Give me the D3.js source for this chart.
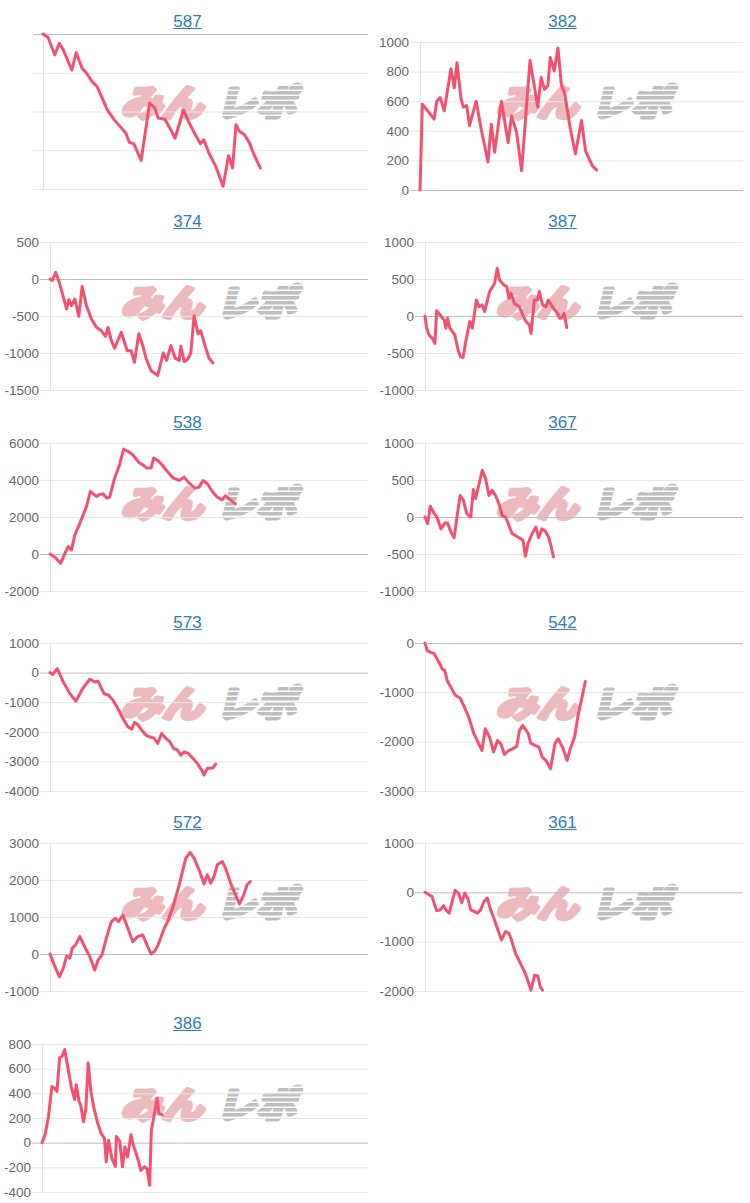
<!DOCTYPE html>
<html><head><meta charset="utf-8">
<script src="https://cdn.jsdelivr.net/npm/d3@7"></script>
<style>body{margin:0;background:#fff;} svg{display:block}</style>
</head><body><svg id="c" width="750" height="1203"></svg>
<script>
// ---- data: machine numbers, game counts, coin difference ----
const titles = ["587","382","374","387","538","367","573","542","572","361","386"];

const g587 = [0,150,350,480,600,850,980,1150,1280,1450,1600,1900,2100,2300,2450,2550,2680,2900,3150,3300,3400,3600,3750,3900,4150,4300,4500,4650,4750,4900,5100,5320,5480,5600,5700,5800,5950,6100,6220,6420];
const v587 = [0,-90,-540,-240,-410,-930,-480,-880,-1000,-1230,-1360,-1960,-2210,-2410,-2560,-2800,-2830,-3260,-1780,-1910,-2170,-2200,-2430,-2690,-1960,-2260,-2600,-2830,-2730,-3070,-3410,-3930,-3140,-3460,-2340,-2510,-2600,-2810,-3090,-3460];

const g382 = [0,70,420,500,600,720,920,1020,1100,1220,1290,1390,1470,1670,1820,2020,2120,2220,2420,2620,2720,2870,3020,3270,3370,3500,3600,3700,3800,3870,3990,4100,4200,4300,4470,4620,4800,4920,5120,5250];
const v382 = [0,580,480,600,625,535,820,690,860,615,560,570,435,600,410,190,445,255,600,320,500,390,130,875,740,560,760,680,705,895,805,960,715,650,410,245,470,265,165,135];

const g374 = [0,70,170,280,500,570,650,750,870,970,1100,1250,1400,1550,1680,1750,1850,1950,2150,2330,2450,2550,2680,2800,2900,3050,3250,3420,3520,3650,3780,3900,3950,4050,4150,4250,4350,4470,4550,4680,4800,4920];
const v374 = [0,-20,90,-45,-405,-280,-360,-270,-505,-100,-360,-540,-650,-700,-775,-655,-830,-935,-720,-970,-970,-1125,-740,-900,-1070,-1240,-1305,-1000,-1100,-900,-1070,-1100,-910,-1115,-1090,-1000,-500,-740,-700,-900,-1070,-1135];

const g387 = [0,50,120,220,300,350,500,580,630,680,750,900,1000,1070,1150,1220,1350,1430,1550,1630,1720,1800,1950,2100,2180,2250,2380,2470,2530,2600,2700,2850,2950,3050,3150,3200,3300,3400,3450,3550,3650,3720,3850,4000,4080,4150,4200,4280];
const v387 = [0,-165,-255,-300,-370,70,-10,-55,-165,-30,-165,-255,-460,-550,-560,-370,-75,-165,215,125,150,60,330,440,645,485,420,395,240,305,170,125,15,-75,-120,-235,215,215,330,150,125,215,125,35,-30,-10,35,-155];

const g538 = [0,150,320,450,550,650,750,900,1100,1220,1400,1480,1600,1720,1800,1950,2100,2220,2350,2500,2680,2800,2920,3050,3130,3250,3380,3500,3630,3730,3900,4050,4200,4380,4500,4620,4750,4900,5050,5200,5300,5420,5600];
const v538 = [0,-180,-505,35,400,215,1030,1660,2565,3380,3110,3200,3250,3020,3070,4100,4825,5675,5550,5365,4950,4825,4645,4645,5185,5060,4825,4555,4280,4100,3975,4155,3830,3560,3615,3975,3795,3380,3070,2930,3145,2965,2710];

const g367 = [0,80,160,280,360,480,600,680,780,880,980,1060,1160,1260,1380,1460,1530,1610,1730,1830,1930,2030,2130,2230,2330,2430,2530,2630,2730,2880,2960,3030,3110,3230,3350,3430,3530,3630,3730,3810,3880];
const v367 = [0,-90,145,45,0,-160,-80,-80,-200,-280,45,290,225,45,0,370,250,405,630,520,290,360,290,180,20,0,-110,-225,-250,-290,-315,-530,-360,-225,-135,-280,-160,-190,-270,-405,-540];

const g573 = [0,80,220,400,600,780,1000,1200,1350,1450,1630,1770,1900,2050,2200,2350,2470,2550,2650,2770,2900,3000,3130,3250,3370,3500,3620,3730,3850,3950,4050,4170,4300,4450,4580,4650,4750,4850,4930,5000];
const v573 = [0,-65,135,-315,-710,-965,-515,-225,-315,-290,-710,-765,-930,-1215,-1550,-1830,-1910,-1685,-1755,-1945,-2115,-2170,-2205,-2395,-2055,-2225,-2340,-2560,-2620,-2790,-2675,-2730,-2880,-3070,-3295,-3460,-3235,-3235,-3205,-3090];

const g542 = [0,70,170,270,420,520,600,670,790,920,1050,1170,1320,1470,1720,1820,1950,2070,2190,2290,2400,2520,2650,2770,2850,2950,3020,3120,3190,3320,3440,3540,3650,3790,3920,4020,4150,4290,4370,4520,4620,4720,4840];
const v542 = [0,-155,-190,-210,-390,-525,-560,-760,-910,-1065,-1110,-1270,-1505,-1825,-2180,-1740,-1910,-2210,-1975,-2045,-2260,-2180,-2145,-2095,-1775,-1670,-1740,-1840,-2030,-2075,-2110,-2315,-2380,-2550,-2045,-1940,-2110,-2380,-2180,-1895,-1470,-1165,-780];

const g572 = [0,130,280,400,500,600,670,770,900,1070,1200,1350,1450,1570,1700,1850,1970,2070,2200,2350,2500,2650,2800,2950,3050,3150,3250,3450,3550,3700,3900,4100,4230,4350,4500,4650,4750,4850,4950,5050,5200,5300,5450,5600,5720,5850,5950,6050];
const v572 = [0,-300,-615,-390,-55,-115,155,245,470,155,-70,-435,-165,-25,425,875,965,875,1055,695,335,470,515,200,0,65,215,695,875,1235,1870,2590,2745,2590,2275,1895,2140,1915,2095,2410,2500,2320,1915,1600,1355,1600,1870,1960];

const g361 = [0,150,210,350,460,560,630,730,910,1010,1110,1200,1300,1380,1480,1580,1680,1780,1880,1980,2080,2180,2310,2430,2530,2610,2730,2880,3030,3200,3310,3410,3480,3550];
const v361 = [0,-60,-80,-375,-355,-270,-355,-420,40,-15,-215,-15,-135,-355,-385,-420,-355,-185,-115,-355,-525,-725,-965,-795,-830,-965,-1235,-1440,-1645,-1985,-1680,-1700,-1915,-1985];

const g386 = [0,90,190,290,360,440,520,590,670,770,860,960,1010,1090,1140,1220,1290,1360,1440,1540,1640,1740,1840,1890,1960,2060,2160,2190,2290,2370,2440,2520,2620,2690,2820,2910,3010,3090,3170,3220,3290,3390,3440,3540];
const v386 = [0,65,210,455,445,415,690,700,755,595,455,350,470,335,305,170,265,645,415,265,160,75,35,-155,20,-130,-195,50,10,-195,-35,-115,65,-20,-130,-225,-195,-210,-345,105,200,360,240,225];

// tick values per panel
const ticks587 = [-4000,-3000,-2000,-1000,0];
const ticks382 = [0,200,400,600,800,1000];
const ticks374 = [-1500,-1000,-500,0,500];
const ticks387 = [-1000,-500,0,500,1000];
const ticks538 = [-2000,0,2000,4000,6000];
const ticks367 = [-1000,-500,0,500,1000];
const ticks573 = [-4000,-3000,-2000,-1000,0,1000];
const ticks542 = [-3000,-2000,-1000,0];
const ticks572 = [-1000,0,1000,2000,3000];
const ticks361 = [-2000,-1000,0,1000];
const ticks386 = [-400,-200,0,200,400,600,800];

const G_MAX = 9600;

const series = [
  {g:g587, v:v587, ticks:ticks587, showLabels:false},
  {g:g382, v:v382, ticks:ticks382, showLabels:true},
  {g:g374, v:v374, ticks:ticks374, showLabels:true},
  {g:g387, v:v387, ticks:ticks387, showLabels:true},
  {g:g538, v:v538, ticks:ticks538, showLabels:true},
  {g:g367, v:v367, ticks:ticks367, showLabels:true},
  {g:g573, v:v573, ticks:ticks573, showLabels:true},
  {g:g542, v:v542, ticks:ticks542, showLabels:true},
  {g:g572, v:v572, ticks:ticks572, showLabels:true},
  {g:g361, v:v361, ticks:ticks361, showLabels:true},
  {g:g386, v:v386, ticks:ticks386, showLabels:true}
];

// ---- drawing ----
const svg = d3.select("#c");
const defs = svg.append("defs");
const pat = defs.append("pattern").attr("id","stripe").attr("patternUnits","userSpaceOnUse")
  .attr("width",6).attr("height",5);
pat.append("rect").attr("width",6).attr("height",5).attr("fill","#b9b9b9");
pat.append("rect").attr("y",3.6).attr("width",6).attr("height",1.4).attr("fill","#ffffff");

const LABEL_FONT = "13.5px 'Liberation Sans', Arial, sans-serif";
const LINE_COLOR = "rgb(242,82,112)";
const WM_FONT = "bold 36px 'Noto Sans CJK JP', sans-serif";

series.forEach((p,i)=>{
  const col = i%2, row = Math.floor(i/2);
  const px = col*375, py = Math.round(row*200.3);
  const g = svg.append("g").attr("transform",`translate(${px},${py})`);

  let maxW = 0;
  if (p.showLabels) {
    p.ticks.forEach(t=>{
      const tt = g.append("text").style("font",LABEL_FONT).text(String(t));
      maxW = Math.max(maxW, tt.node().getComputedTextLength());
      tt.remove();
    });
  }
  const left = p.showLabels ? Math.round(maxW + 15) : 43;
  const right = 368;
  const top = p.showLabels ? 42 : 34;
  const bottom = p.showLabels ? 190 : 189;

  const x = d3.scaleLinear().domain([0,G_MAX]).range([left,right]);
  const y = d3.scaleLinear().domain(d3.extent(p.ticks)).range([bottom,top]);

  // watermark
  const wm = g.append("g").attr("opacity",0.92);
  const w1 = wm.append("g").attr("transform","translate(121,116) skewX(-14)");
  w1.append("text").attr("x",0).attr("y",0)
    .attr("textLength",82).attr("lengthAdjust","spacingAndGlyphs")
    .style("font",WM_FONT)
    .attr("fill","#ebb5ba").attr("stroke","#ebb5ba").attr("stroke-width",4.5)
    .attr("stroke-linejoin","round").text("みん");
  const w2 = wm.append("g").attr("transform","translate(216,116) skewX(-14)");
  w2.append("text").attr("x",0).attr("y",0)
    .attr("textLength",80).attr("lengthAdjust","spacingAndGlyphs")
    .style("font",WM_FONT)
    .attr("fill","url(#stripe)").attr("stroke","url(#stripe)").attr("stroke-width",4.5)
    .attr("stroke-linejoin","round").text("レポ");

  // grid lines (axis)
  const gridAx = g.append("g").attr("transform",`translate(${left},0)`)
    .call(d3.axisLeft(y).tickValues(p.ticks).tickSizeInner(-(right-left)).tickSizeOuter(0)
      .tickPadding(11).tickFormat(p.showLabels ? (d=>String(d)) : ()=> ""));
  gridAx.select(".domain").attr("stroke","#e3e3e3");
  gridAx.selectAll(".tick line").attr("stroke", d => d===0 ? "#bdbdbd" : "#e6e6e6");
  gridAx.selectAll(".tick text").style("font",LABEL_FONT).attr("fill","#666");

  // short tick marks left of axis
  const markAx = g.append("g").attr("transform",`translate(${left},0)`)
    .call(d3.axisLeft(y).tickValues(p.ticks).tickSize(10).tickFormat(""));
  markAx.select(".domain").remove();
  markAx.selectAll(".tick line").attr("stroke", d => d===0 ? "#bdbdbd" : "#e6e6e6");

  // line
  const line = d3.line().x((d,k)=>x(p.g[k])).y(d=>y(d));
  g.append("path").datum(p.v).attr("d",line)
    .attr("fill","none").attr("stroke",LINE_COLOR).attr("stroke-width",3)
    .attr("stroke-linejoin","round").attr("stroke-linecap","round");

  // title
  const t = g.append("text").attr("x",187.5).attr("y",26.5).attr("text-anchor","middle")
    .style("font","17px 'Liberation Sans', Arial, sans-serif").attr("fill","#337ab7")
    .text(titles[i]);
  const tw = t.node().getComputedTextLength();
  g.append("line").attr("x1",187.5-tw/2).attr("x2",187.5+tw/2).attr("y1",28.5).attr("y2",28.5)
    .attr("stroke","#337ab7").attr("stroke-width",1);
});
</script>
</body></html>
